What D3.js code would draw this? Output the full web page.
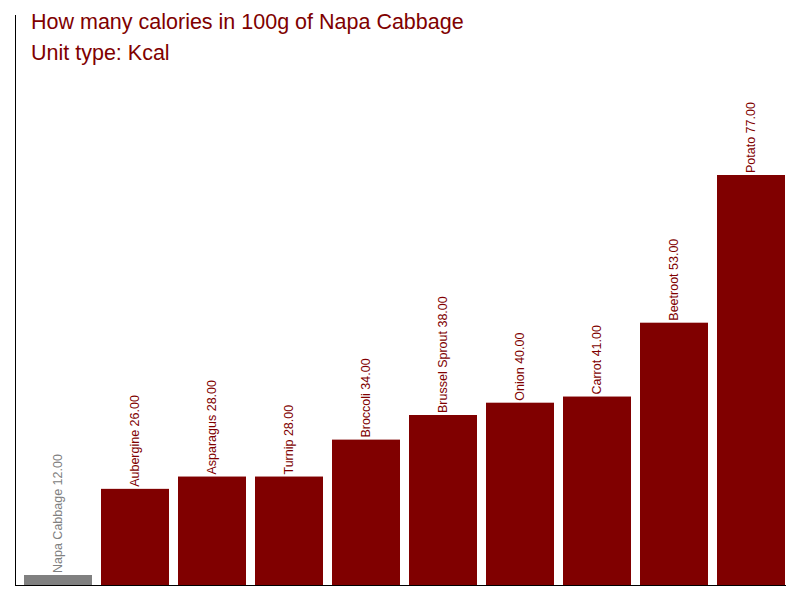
<!DOCTYPE html>
<html>
<head>
<meta charset="utf-8">
<script src="https://cdn.jsdelivr.net/npm/d3@7"></script>
<style>
body { margin: 0; background: #fff; }
svg { display: block; font-family: "Liberation Sans", Arial, sans-serif; }
</style>
</head>
<body>
<svg id="chart" width="800" height="600"></svg>
<script>
const categories = ["Napa Cabbage", "Aubergine", "Asparagus", "Turnip", "Broccoli", "Brussel Sprout", "Onion", "Carrot", "Beetroot", "Potato"];
const values = [12, 26, 28, 28, 34, 38, 40, 41, 53, 77];
const highlight = "Napa Cabbage";
const titleLines = ["How many calories in 100g of Napa Cabbage", "Unit type: Kcal"];

const data = categories.map((c, i) => ({ name: c, value: values[i] }));
const svg = d3.select("#chart");

const x = d3.scaleBand().domain(categories).range([24, 785]).paddingInner(9 / 77).paddingOuter(0);
const y = d3.scaleLinear().domain([12, 77]).range([575, 175]);
const baseY = 585;

const colorOf = d => d.name === highlight ? "#808080" : "#800000";

svg.append("g").selectAll("rect").data(data).join("rect")
  .attr("x", d => x(d.name))
  .attr("y", d => y(d.value))
  .attr("width", x.bandwidth())
  .attr("height", d => baseY - y(d.value))
  .attr("fill", colorOf);

svg.append("g").selectAll("text").data(data).join("text")
  .attr("transform", d => `translate(${x(d.name) + x.bandwidth() / 2},${y(d.value) - 2}) rotate(-90)`)
  .attr("dy", "0.35em")
  .attr("font-size", "12.5px")
  .attr("fill", colorOf)
  .text(d => `${d.name} ${d3.format(".2f")(d.value)}`);

// axes lines
svg.append("line").attr("x1", 15.5).attr("x2", 15.5).attr("y1", 15).attr("y2", baseY + 0.5)
  .attr("stroke", "#000").attr("stroke-width", 1);
svg.append("line").attr("x1", 15).attr("x2", 786).attr("y1", baseY + 0.5).attr("y2", baseY + 0.5)
  .attr("stroke", "#000").attr("stroke-width", 1);

svg.append("g").selectAll("text").data(titleLines).join("text")
  .attr("x", 31)
  .attr("y", (d, i) => 29 + i * 31)
  .attr("font-size", "21.5px")
  .attr("fill", "#800000")
  .text(d => d);
</script>
</body>
</html>
